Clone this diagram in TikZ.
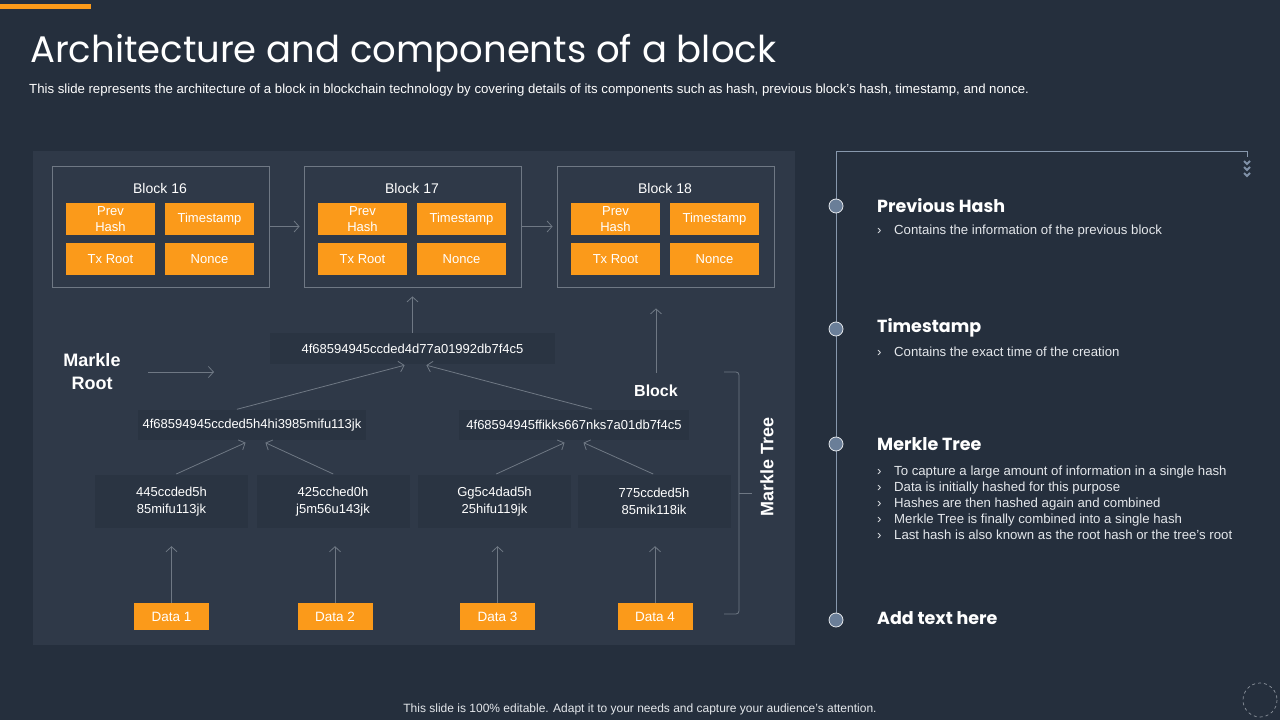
\documentclass[tikz,border=0pt]{standalone}
\usepackage{fontspec}
\setmainfont{Liberation Sans}
\newfontfamily\headfont{Poppins}
\usetikzlibrary{arrows.meta}

\definecolor{slidebg}{HTML}{252F3D}
\definecolor{panelbg}{HTML}{2F3948}
\definecolor{hashbg}{HTML}{2A3442}
\definecolor{blockorange}{HTML}{FB9A1A}
\definecolor{linegray}{HTML}{6F7884}
\definecolor{dotblue}{HTML}{6A7E98}
\definecolor{softwhite}{HTML}{E4E7EB}

\tikzset{
  orangebox/.style={fill=blockorange, text=white, minimum width=89pt, minimum height=32pt,
    inner sep=0pt, align=center, font=\fontsize{13}{15.5}\selectfont},
  databox/.style={orangebox, minimum width=75pt, minimum height=27pt, font=\fontsize{13.5}{15}\selectfont},
  blockframe/.style={draw=linegray, line width=0.8pt, minimum width=217pt, minimum height=121pt, inner sep=0pt},
  hashbox/.style={fill=hashbg, text=white, inner sep=0pt, align=center, font=\fontsize{13}{16.5}\selectfont},
  conn/.style={draw=linegray, line width=0.8pt, -{Straight Barb[length=5pt,width=11pt]}},
  biglabel/.style={text=white, align=center, font=\fontsize{18}{23}\selectfont\bfseries},
  tline/.style={draw=dotblue!80!white, line width=0.9pt},
  dot/.style={circle, fill=dotblue, draw=softwhite, line width=0.8pt, minimum size=14pt, inner sep=0pt},
  head/.style={anchor=west, text=white, inner sep=0pt, font=\headfont\fontsize{17.5}{20}\selectfont\bfseries},
  bullets/.style={anchor=west, text=softwhite, inner sep=0pt, align=left, font=\fontsize{13.2}{16}\selectfont},
}
\newcommand{\bul}{\makebox[17pt][l]{›}}

\begin{document}
\begin{tikzpicture}[x=1pt, y=-1pt]
  %%%%% BACKGROUND %%%%%
  \fill[slidebg] (0,0) rectangle (1280,720);
  \useasboundingbox (0,0) rectangle (1280,720);
  \fill[blockorange] (0,4) rectangle (91,9);

  \node[anchor=base west, inner sep=0pt, text=white, font=\headfont\fontsize{37}{40}\selectfont] (title) at (30,62)
    {Architecture and components of a block};
  \node[anchor=base west, inner sep=0pt, text=white, font=\fontsize{13.2}{15}\selectfont] (subtitle) at (29,93)
    {This slide represents the architecture of a block in blockchain technology by covering details of its components such as hash, previous block's hash, timestamp, and nonce.};

  %%%%% LEFT PANEL %%%%%
  \fill[panelbg] (33,151) rectangle (795,645);

  % blocks
  \foreach \n/\dx in {16/0, 17/252, 18/505}{
    \node[blockframe] (b\n) at (160.5+\dx,226.5) {};
    \node[text=white, font=\fontsize{14}{16}\selectfont] (b\n-title) at (160+\dx,188) {Block \n};
    \node[orangebox] (b\n-prev) at (110.5+\dx,219) {Prev\\Hash};
    \node[orangebox] (b\n-time) at (209.5+\dx,219) {Timestamp};
    \node[orangebox] (b\n-tx) at (110.5+\dx,259) {Tx Root};
    \node[orangebox] (b\n-nonce) at (209.5+\dx,259) {Nonce};
  }
  \draw[conn, shorten >=4pt] (b16.east) -- (b17.west);
  \draw[conn, shorten >=4pt] (b17.east) -- (b18.west);

  % hashes
  \node[hashbox, minimum width=285pt, minimum height=31pt] (root) at (412.5,348.5) {4f68594945ccded4d77a01992db7f4c5};
  \node[hashbox, minimum width=228pt, minimum height=30pt] (midL) at (252,425) {4f68594945ccded5h4hi3985mifu113jk};
  \node[hashbox, minimum width=230pt, minimum height=30pt] (midR) at (574,425) {4f68594945ffikks667nks7a01db7f4c5};
  \node[hashbox, minimum width=153pt, minimum height=53pt] (leaf1) at (171.5,501.5) {445ccded5h\\85mifu113jk};
  \node[hashbox, minimum width=153pt, minimum height=53pt] (leaf2) at (333,501.5) {425cched0h\\j5m56u143jk};
  \node[hashbox, minimum width=153pt, minimum height=53pt] (leaf3) at (494.5,501.5) {Gg5c4dad5h\\25hifu119jk};
  \node[hashbox, minimum width=153pt, minimum height=53pt] (leaf4) at (654,501.5) {775ccded5h\\85mik118ik};

  % data
  \node[databox] (data1) at (171.5,616.5) {Data 1};
  \node[databox] (data2) at (335,616.5) {Data 2};
  \node[databox] (data3) at (497.5,616.5) {Data 3};
  \node[databox] (data4) at (655,616.5) {Data 4};

  \draw[conn, shorten >=18pt] (data1.north) -- (data1.north |- leaf1.south);
  \draw[conn, shorten >=18pt] (data2.north) -- (data2.north |- leaf2.south);
  \draw[conn, shorten >=18pt] (data3.north) -- (data3.north |- leaf3.south);
  \draw[conn, shorten >=18pt] (data4.north) -- (data4.north |- leaf4.south);

  \draw[conn, shorten <=2pt, shorten >=6pt] ([xshift=3pt]leaf1.north) -- ([xshift=-1pt]midL.south);
  \draw[conn, shorten <=2pt, shorten >=6pt] ([xshift=2pt]leaf2.north) -- ([xshift=8pt]midL.south);
  \draw[conn, shorten <=2pt, shorten >=6pt] ([xshift=0pt]leaf3.north) -- ([xshift=-4pt]midR.south);
  \draw[conn, shorten <=2pt, shorten >=6pt] ([xshift=1pt]leaf4.north) -- ([xshift=4pt]midR.south);

  \draw[conn, shorten <=2pt, shorten >=4pt] ([xshift=-17pt]midL.north) -- ([xshift=-4pt]root.south);
  \draw[conn, shorten <=3pt, shorten >=4pt] ([xshift=21pt]midR.north) -- ([xshift=10pt]root.south);
  \draw[conn, shorten >=9pt] (root.north) -- (b17.south);

  % labels
  \node[biglabel] (mroot) at (92,372) {Markle\\Root};
  \coordinate (rootaim) at (214,372);
  \draw[conn] ([xshift=24pt]mroot.east) -- (rootaim);

  \node[biglabel, font=\fontsize{16}{18}\selectfont\bfseries] (blk) at (656,391) {Block};
  \draw[conn, shorten <=9pt, shorten >=21pt] (blk.north) -- (b18.south -| blk.north);

  \draw[linegray, line width=0.8pt, rounded corners=3pt] (724,372) -- (739,372) -- (739,614) -- (724,614);
  \draw[linegray, line width=0.8pt] (739,493) -- (752,493);
  \node[biglabel, rotate=90] (mtree) at (767,467) {Markle Tree};

  %%%%% RIGHT TIMELINE %%%%%
  \draw[tline] (836,620) -- (836,151) -- (1247,151) -- (1247,157);
  \foreach \yy in {161,167,173}
    \draw[dotblue!85!white, line width=1.8pt] (1244,\yy) -- (1247,\yy+3) -- (1250,\yy);

  \node[dot] (d1) at (836,206) {};
  \node[dot] (d2) at (836,329) {};
  \node[dot] (d3) at (836,444) {};
  \node[dot] (d4) at (836,620) {};

  \node[head] (h1) at (877,206) {Previous Hash};
  \node[bullets] (t1) at (877,231) {\bul Contains the information of the previous block};

  \node[head] (h2) at (877,328) {Timestamp};
  \node[bullets] (t2) at (877,352) {\bul Contains the exact time of the creation};

  \node[head] (h3) at (877,444) {Merkle Tree};
  \node[bullets] (t3) at (877,503) {\bul To capture a large amount of information in a single hash\\
    \bul Data is initially hashed for this purpose\\
    \bul Hashes are then hashed again and combined\\
    \bul Merkle Tree is finally combined into a single hash\\
    \bul Last hash is also known as the root hash or the tree's root};

  \node[head] (h4) at (877,618) {Add text here};

  %%%%% FOOTER %%%%%
  \node[text=softwhite, font=\fontsize{12}{14}\selectfont] (foot) at (640,709)
    {This slide is 100\% editable. Adapt it to your needs and capture your audience's attention.};
  \draw[linegray!80!white, dashed, line width=0.7pt] (1260,700) circle (17);
\end{tikzpicture}
\end{document}
